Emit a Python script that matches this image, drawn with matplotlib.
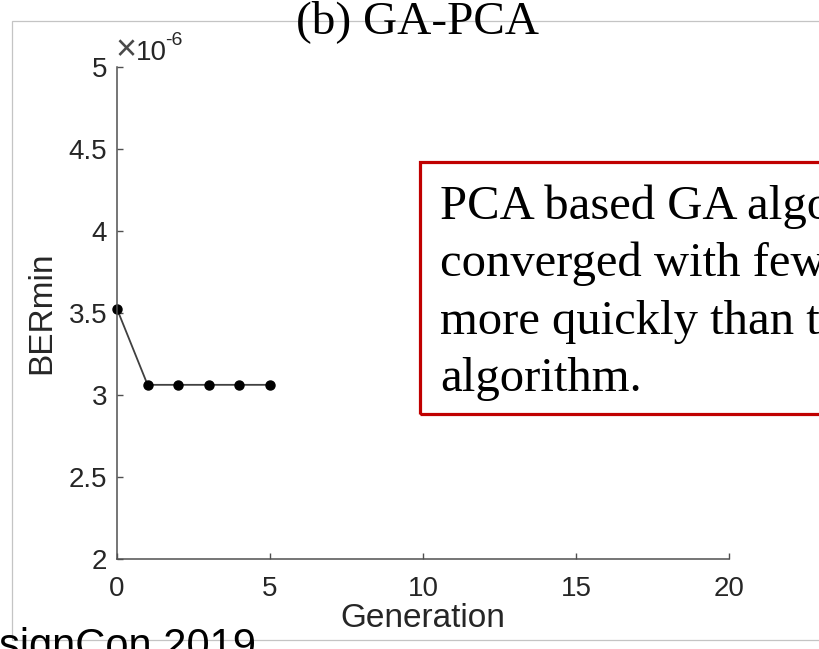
import matplotlib.pyplot as plt
from matplotlib.patches import Rectangle
from matplotlib.ticker import FuncFormatter

plt.rcParams['font.family'] = ['Liberation Sans', 'DejaVu Sans']

generation = [0, 1, 2, 3, 4, 5]
ber_min = [3.525e-6, 3.062e-6, 3.062e-6, 3.062e-6, 3.062e-6, 3.062e-6]
xticks = [0, 5, 10, 15, 20]
yticks = [2e-6, 2.5e-6, 3e-6, 3.5e-6, 4e-6, 4.5e-6, 5e-6]
note_lines = ["PCA based GA algorithm has",
              "converged with fewer generations",
              "more quickly than the conventional GA",
              "algorithm."]

W, H = 820, 649
fig = plt.figure(figsize=(8.2, 6.49), dpi=100)

# light slide frame around the figure
fig.patches.append(Rectangle((12 / W, 1 - 640 / H), 1.2, (640 - 21) / H,
                             transform=fig.transFigure, fill=False,
                             edgecolor='#c4c4c4', linewidth=0.9, zorder=0))

ax = fig.add_axes([117 / W, 1 - 559 / H, (729 - 117) / W, (559 - 67) / H])
ax.plot(generation, ber_min, color='#404040', linewidth=1.3,
        marker='o', markersize=6.5, markerfacecolor='black', markeredgecolor='black',
        clip_on=False)

ax.set_xlim(0, 20)
ax.set_ylim(2e-6, 5e-6)
ax.set_xticks(xticks)
ax.set_yticks(yticks)
ax.yaxis.set_major_formatter(FuncFormatter(lambda v, p: '%g' % round(v * 1e6, 3)))
for s in ['top', 'right']:
    ax.spines[s].set_visible(False)
for s in ['left', 'bottom']:
    ax.spines[s].set_color('#505050')
    ax.spines[s].set_linewidth(1.1)
ax.tick_params(direction='in', length=4, width=1, colors='#505050',
               labelcolor='#262626', labelsize=20)
ax.tick_params(axis='x', pad=12)
ax.tick_params(axis='y', pad=7)
ax.set_xlabel('Generation', fontsize=24, color='#262626', labelpad=1)
ax.set_ylabel('BERmin', fontsize=24, color='#262626', labelpad=8)

# MATLAB style exponent above the y axis
fig.text(116 / W, 1 - 60 / H, '\u00d7', fontsize=26, color='#4a4a4a',
         ha='left', va='baseline')
fig.text(136 / W, 1 - 60 / H, '10', fontsize=20, color='#262626',
         ha='left', va='baseline')
fig.text(165 / W, 1 - 45 / H, '-6', fontsize=14, color='#262626',
         ha='left', va='baseline')

# title of the slide panel
fig.text(418 / W, 1 - 33 / H, '(b) GA-PCA', family='Liberation Serif',
         fontsize=34, ha='center', va='baseline', color='black')

# annotation box
fig.patches.append(Rectangle((420 / W, 1 - 414 / H), 1.0, (414 - 162) / H,
                             transform=fig.transFigure, fill=False,
                             edgecolor='#c00000', linewidth=2.3, zorder=3))
for i, line in enumerate(note_lines):
    fig.text(440 / W, 1 - (219 + 57.3 * i) / H, line, family='Liberation Serif',
             fontsize=35, ha='left', va='baseline', color='black')

fig.text(256 / W, 1 - 658 / H, 'DesignCon 2019', fontsize=30,
         ha='right', va='baseline', color='black')

fig.savefig('out.png', dpi=100)
